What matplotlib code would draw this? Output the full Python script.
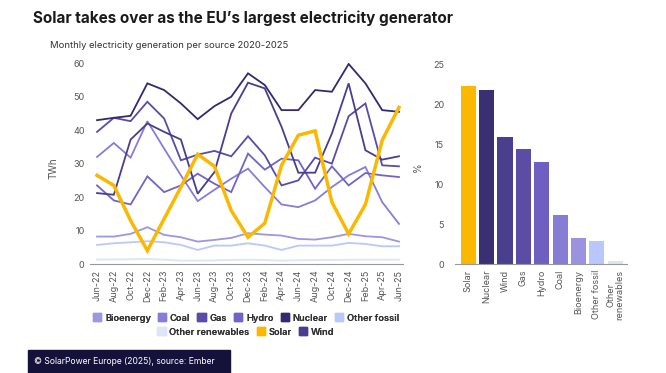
import matplotlib.pyplot as plt
from matplotlib.patches import Patch, Rectangle

plt.rcParams['font.family'] = ['Inter', 'DejaVu Sans']

months = ['Jun-22', 'Aug-22', 'Oct-22', 'Dec-22', 'Feb-23', 'Apr-23', 'Jun-23',
          'Aug-23', 'Oct-23', 'Dec-23', 'Feb-24', 'Apr-24', 'Jun-24', 'Aug-24',
          'Oct-24', 'Dec-24', 'Feb-25', 'Apr-25', 'Jun-25']

bioenergy = [8.2, 8.2, 9.0, 11.0, 8.7, 8.0, 6.7, 7.2, 7.8, 9.2, 8.8, 8.5, 7.5, 7.3, 8.0, 9.0, 8.3, 8.0, 6.7]
coal = [32.0, 36.2, 31.8, 42.7, 34.5, 26.5, 18.8, 22.2, 25.5, 28.5, 23.0, 17.8, 17.0, 19.0, 23.0, 26.5, 29.0, 18.5, 12.0]
gas = [39.5, 43.7, 42.7, 48.5, 43.5, 31.0, 32.7, 33.8, 32.2, 38.2, 32.5, 23.5, 25.0, 31.8, 30.0, 44.2, 48.0, 29.5, 29.2]
hydro = [23.5, 19.0, 17.8, 26.2, 21.5, 23.5, 27.0, 24.0, 21.5, 33.0, 28.2, 31.5, 31.0, 22.5, 29.2, 23.5, 27.2, 26.5, 26.0]
nuclear = [43.0, 43.7, 44.3, 54.0, 52.0, 48.0, 43.3, 47.2, 50.0, 57.0, 53.5, 46.0, 46.0, 52.0, 51.5, 59.8, 54.0, 46.0, 45.5]
other_fossil = [5.7, 6.2, 6.5, 6.8, 6.5, 5.7, 4.2, 5.5, 5.5, 6.2, 5.5, 4.2, 5.5, 5.5, 5.5, 6.3, 6.0, 5.3, 5.3]
other_renew = [1.3, 1.4, 1.4, 1.5, 1.3, 1.0, 1.0, 1.1, 1.2, 1.3, 1.2, 1.0, 1.1, 1.2, 1.2, 1.3, 1.3, 1.3, 1.3]
solar = [26.5, 23.5, 13.0, 4.0, 13.5, 23.0, 32.8, 29.2, 16.0, 8.0, 12.2, 29.5, 38.5, 39.8, 18.5, 9.0, 17.8, 37.0, 46.8]
wind = [21.2, 20.7, 37.2, 42.0, 39.5, 37.2, 21.0, 27.5, 45.0, 54.2, 52.5, 41.0, 27.3, 27.3, 39.0, 54.0, 34.0, 31.2, 32.2]

share_labels = ['Solar', 'Nuclear', 'Wind', 'Gas', 'Hydro', 'Coal', 'Bioenergy', 'Other fossil', 'Other\nrenewables']
share_values = [22.25, 21.7, 15.9, 14.4, 12.8, 6.1, 3.25, 2.85, 0.4]

colors = {
    'Bioenergy': '#9d97e0', 'Coal': '#877cd6', 'Gas': '#5a4ba7', 'Hydro': '#7263c6',
    'Nuclear': '#33296f', 'Other fossil': '#b9c9f8', 'Other renewables': '#dfe4f6',
    'Solar': '#fbb800', 'Wind': '#493d90',
}
share_colors = ['#fbb800', '#3a2f73', '#4a3e8e', '#5b4ca6', '#6e5fc0', '#887dd4', '#9a94e0', '#b8c8fa', '#dfe4f5']

series = [('Other renewables', other_renew), ('Other fossil', other_fossil), ('Bioenergy', bioenergy),
          ('Coal', coal), ('Hydro', hydro), ('Gas', gas), ('Wind', wind), ('Nuclear', nuclear)]

fig = plt.figure(figsize=(6.66, 3.73), dpi=100)
W, H = 666, 373

tick_color = '#555555'

# left: monthly lines
ax = fig.add_axes([90 / W, 1 - 264 / H, 313 / W, (264 - 63.3) / H])
x = list(range(len(months)))
for name, vals in series:
    ax.plot(x, vals, color=colors[name], lw=1.3, solid_joinstyle='miter')
ax.plot(x, solar, color=colors['Solar'], lw=2.5, solid_joinstyle='miter', zorder=5)
ax.set_xlim(-0.42, 18.24)
ax.set_ylim(0, 60)
ax.set_yticks(range(0, 61, 10))
ax.set_xticks(x)
ax.set_xticklabels(months, rotation=90)
for s in ['top', 'right', 'left']:
    ax.spines[s].set_visible(False)
ax.spines['bottom'].set_color('#999999')
ax.tick_params(length=0, labelsize=6.5, colors=tick_color, pad=4)
fig.text(53 / W, 1 - 168 / H, 'TWh', rotation=90, ha='center', va='center', fontsize=7, color=tick_color)

# right: share bars
ax2 = fig.add_axes([455 / W, 1 - 264 / H, 172 / W, 200 / H])
bx = list(range(len(share_labels)))
ax2.bar(bx, share_values, width=0.82, color=share_colors)
ax2.set_xlim(-0.72, 8.64)
ax2.set_ylim(0, 25)
ax2.set_yticks(range(0, 26, 5))
ax2.set_xticks(bx)
ax2.set_xticklabels(share_labels, rotation=90, linespacing=1.0)
for s in ['top', 'right', 'left']:
    ax2.spines[s].set_visible(False)
ax2.spines['bottom'].set_color('#999999')
ax2.tick_params(length=0, labelsize=6.5, colors=tick_color, pad=4)
ax2.tick_params(axis='y', pad=8)
fig.text(418 / W, 1 - 167 / H, '%', rotation=90, ha='center', va='center', fontsize=7, color=tick_color)

# titles
fig.text(33 / W, 1 - 18 / H, 'Solar takes over as the EU\u2019s largest electricity generator',
         fontsize=11, fontweight='bold', color='#1a1a1a', va='center')
fig.text(50 / W, 1 - 45 / H, 'Monthly electricity generation per source 2020-2025',
         fontsize=6.8, color='#333333', va='center')

# legend in two rows
row1 = ['Bioenergy', 'Coal', 'Gas', 'Hydro', 'Nuclear', 'Other fossil']
row2 = ['Other renewables', 'Solar', 'Wind']
for names, yc in [(row1, 318), (row2, 332)]:
    handles = [Patch(color=colors[n], label=n) for n in names]
    leg = fig.legend(handles=handles, loc='center', bbox_to_anchor=(246 / W, 1 - yc / H),
                     ncol=len(names), frameon=False, fontsize=6.7, handlelength=0.9, handleheight=0.9,
                     handletextpad=0.4, columnspacing=0.75, borderaxespad=0, borderpad=0)
    for t in leg.get_texts():
        t.set_color('#333333')
        t.set_fontweight('semibold')
    fig.add_artist(leg)

# footer
fig.add_artist(Rectangle((28 / W, 0), 202 / W, 23 / H, transform=fig.transFigure,
                         color='#14123b', zorder=0))
fig.text(34 / W, 11 / H, '\u00a9 SolarPower Europe (2025), source: Ember', fontsize=6.2,
         color='white', va='center')

fig.savefig('out.png', dpi=100)
